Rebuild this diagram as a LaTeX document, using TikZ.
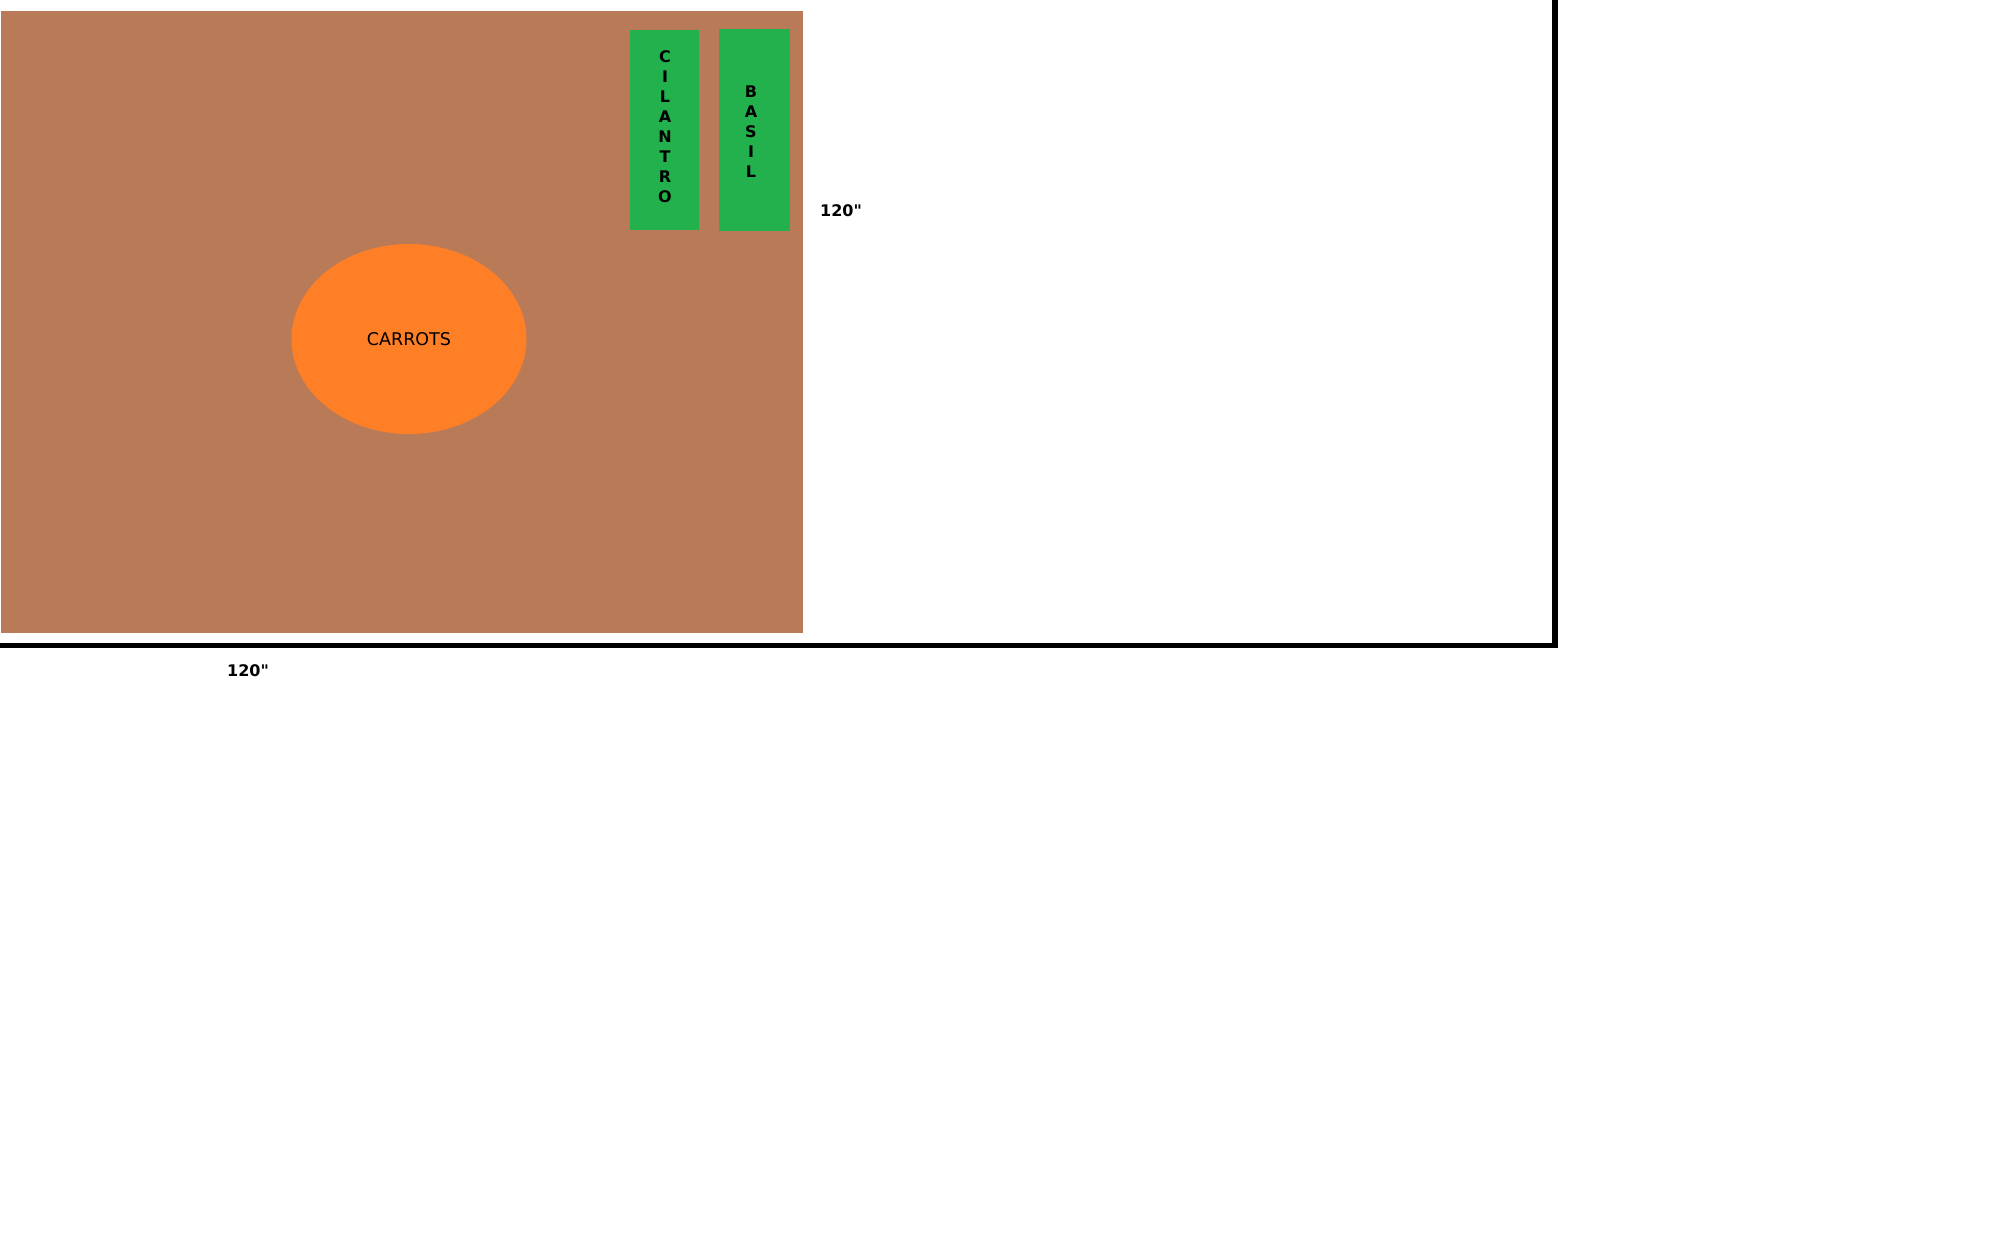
\documentclass[tikz,border=0pt]{standalone}
\usepackage{fontspec}
\setmainfont{DejaVu Sans}
\usetikzlibrary{shapes.geometric}
\definecolor{soil}{HTML}{B97A57}
\definecolor{herb}{HTML}{22B14C}
\definecolor{carrot}{HTML}{FF7F27}
\tikzset{
  bedbox/.style={fill=soil, draw=none, inner sep=0pt, anchor=north west},
  herbbox/.style={fill=herb, draw=none, inner sep=0pt, anchor=north west},
  herbtext/.style={inner sep=0pt, align=center, font=\fontsize{16}{20}\selectfont\bfseries},
  carrotshape/.style={ellipse, fill=carrot, draw=none, inner sep=0pt,
    font=\fontsize{17.5}{20}\selectfont},
  dimlabel/.style={font=\fontsize{16}{20}\selectfont\bfseries, inner sep=0pt},
  wall/.style={line width=5.5pt, line join=miter, black}
}
\begin{document}
\begin{tikzpicture}[x=1pt, y=-1pt]
\useasboundingbox (0,0) rectangle (2000,1250);
\node[bedbox, minimum width=802pt, minimum height=622pt] (bed) at (1,11) {};
\node[herbbox, minimum width=69pt, minimum height=200pt] (cilantro) at (630,30) {};
\node[herbbox, minimum width=71pt, minimum height=202pt] (basil) at (719,29) {};
\node[herbtext] (cilantrotext) at (665,127) {C\\I\\L\\A\\N\\T\\R\\O};
\node[herbtext] (basiltext) at (751,132) {B\\A\\S\\I\\L};
\node[carrotshape, minimum width=235pt, minimum height=190pt] (carrots) at (409,339) {CARROTS};
\node[dimlabel] (side) at (841,211) {120\textquotedbl};
\node[dimlabel] (bottom) at (248,671) {120\textquotedbl};
\coordinate (wl) at (0,645.5);
\coordinate (wc) at (1555,645.5);
\coordinate (wt) at (1555,0);
\draw[wall] (wl) -- (wc) -- (wt);
\end{tikzpicture}
\end{document}
